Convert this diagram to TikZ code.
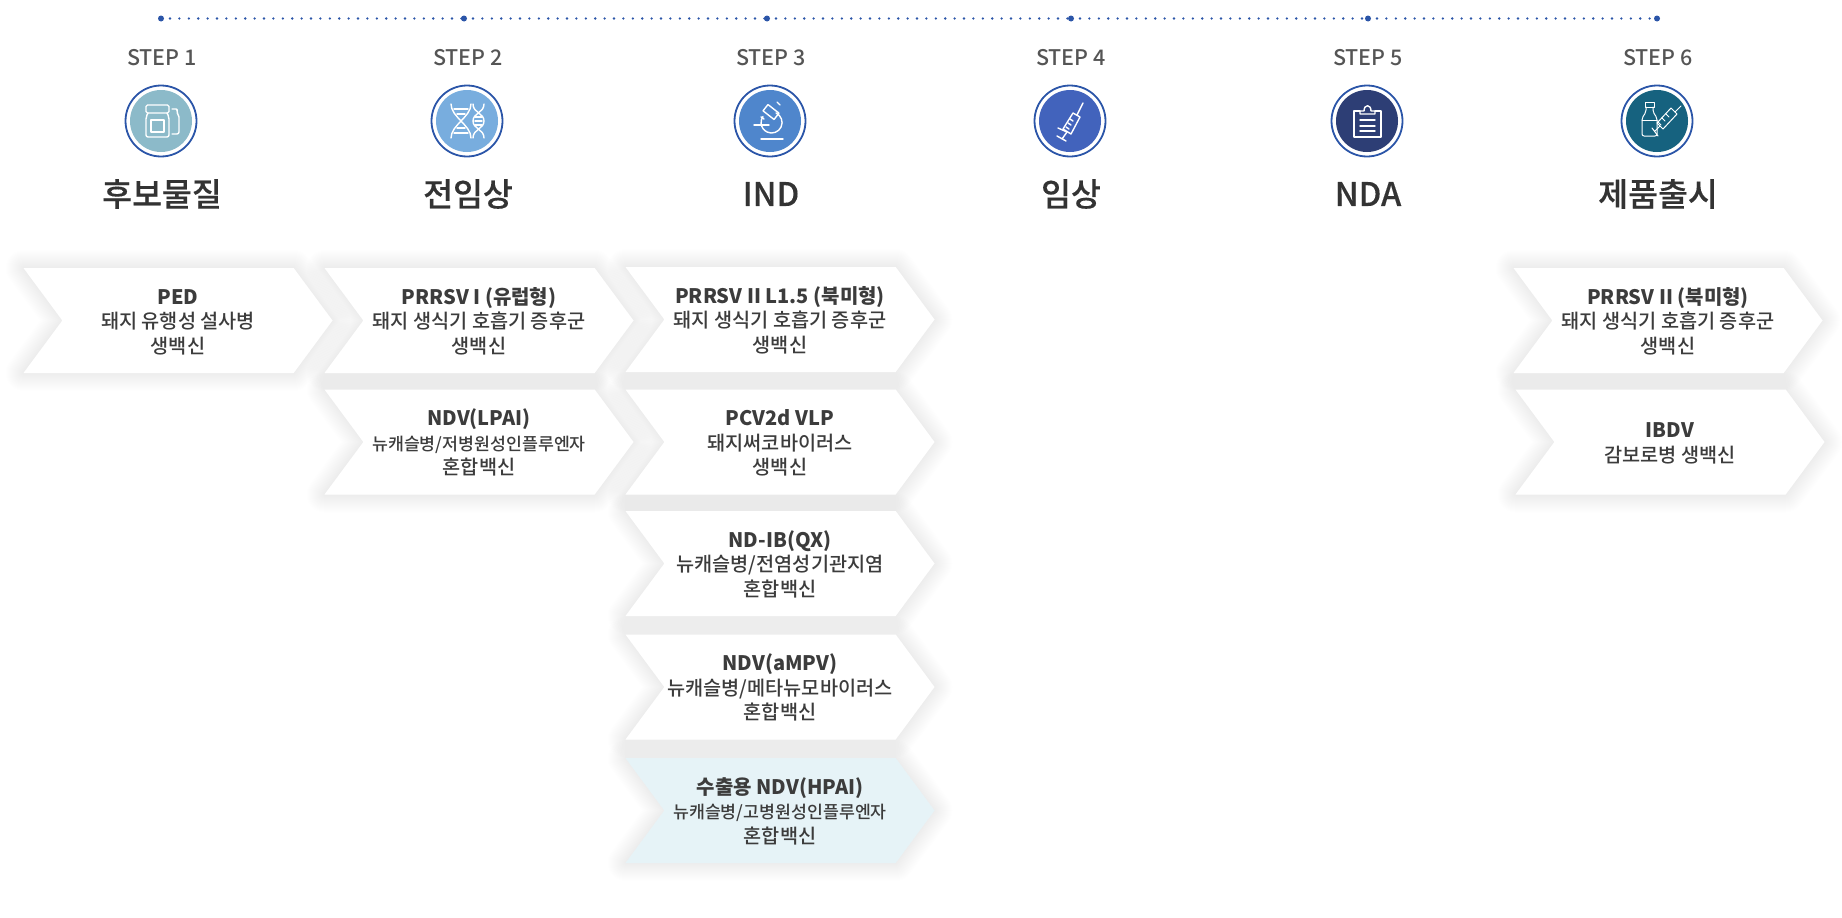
\documentclass[tikz,border=0pt]{standalone}
\usepackage{fontspec}
\setmainfont{Noto Sans CJK KR Medium}
\newfontfamily\headfont{Noto Sans CJK KR}
\newfontfamily\titlefont{Noto Sans CJK KR Medium}[FakeBold=0.25]
\usetikzlibrary{shapes.symbols}
\definecolor{ringblue}{HTML}{2B55A8}
\definecolor{stepgray}{HTML}{555555}
\definecolor{titlegray}{HTML}{333333}
\definecolor{bodygray}{HTML}{3C3C3C}
\definecolor{paleblue}{HTML}{E6F3F7}
\newcommand{\boxhead}[1]{{\rule{0pt}{18pt}\headfont\fontsize{20}{24.5}\selectfont\bfseries #1}}
\newcommand{\smalltext}[1]{{\fontsize{17.3}{24.5}\selectfont #1}}
\tikzset{
	arrowshape/.style={signal, signal from=west, signal to=east, signal pointer angle=107, minimum width=309pt, minimum height=105pt, inner sep=0pt, outer sep=0pt},
	vaxbox/.style={arrowshape, fill=white, text=bodygray, align=center, font=\fontsize{19.7}{24.5}\selectfont},
	vaxshade/.style={arrowshape, draw=black, draw opacity=0.0055, line join=round},
	bigdot/.style={circle, fill=ringblue, minimum size=6pt, inner sep=0pt},
	dotline/.style={ringblue, line width=2.6pt, line cap=round, dash pattern=on 0pt off 9.4pt, shorten <=9pt},
	steptext/.style={text=stepgray, font=\fontsize{21.5}{22}\selectfont},
	titletext/.style={text=titlegray, font=\titlefont\fontsize{32.5}{33}\selectfont},
	ringnode/.style={circle, draw=ringblue, line width=1.8pt, fill=white, minimum size=71pt, inner sep=0pt},
	discnode/.style={circle, minimum size=62pt, inner sep=0pt},
	icon/.style={white, line width=1.4pt, line cap=round, line join=round}
}
\begin{document}
\begin{tikzpicture}[x=1pt, y=-1pt]
	\useasboundingbox (0,0) rectangle (1842,918);
	% dotted line
	\node[bigdot] (d1) at (161,18.5) {};
	\node[bigdot] (d2) at (464,18.5) {};
	\node[bigdot] (d3) at (767,18.5) {};
	\node[bigdot] (d4) at (1071,18.5) {};
	\node[bigdot] (d5) at (1368,18.5) {};
	\node[bigdot] (d6) at (1657,18.5) {};
	\draw[dotline] (d1.center)--(d2.center);
	\draw[dotline] (d2.center)--(d3.center);
	\draw[dotline] (d3.center)--(d4.center);
	\draw[dotline] (d4.center)--(d5.center);
	\draw[dotline] (d5.center)--(d6.center);
	% steps
	\foreach \n/\x/\c/\t in {1/161/8CBAC9/후보물질, 2/467/78ADDE/전임상, 3/770/4F86CC/IND, 4/1070/4263BC/임상, 5/1367/2D3E75/NDA, 6/1657/16627F/제품출시}{
		\definecolor{disc}{HTML}{\c}
		\node[steptext, xshift=1pt] (step\n) at (\x,57.5) {STEP \n};
		\node[ringnode] (ring\n) at (\x,121) {};
		\node[discnode, fill=disc] (disc\n) at (\x,121) {};
		\node[titletext, xshift=1pt] (title\n) at (\x,194) {\t};
	}
	% icons
	\begin{scope}[shift={(disc1.center)}, icon]
		\draw[rounded corners=1.5pt] (-15,-16) rectangle (8,-8);
		\draw[rounded corners=2pt] (-13,-8)--(-15,-4)--(-15,16)--(8,16)--(8,-4)--(6,-8);
		\draw (-10,-1) rectangle (3,11);
		\draw[rounded corners=2pt] (11,-12)--(17,-12)--(15,-9)--(18,-6)--(18,13)--(11,13);
	\end{scope}
	\begin{scope}[shift={(disc2.center)}, icon]
		\draw (-16,-17)..controls (-16,-4) and (4,4)..(4,17);
		\draw (4,-17)..controls (4,-4) and (-16,4)..(-16,17);
		\draw (-13,-12)--(1,-12) (-10,-7)--(-2,-7) (-10,7)--(-2,7) (-13,12)--(1,12);
		\draw (6,-17)..controls (6,-8) and (17,-8)..(17,0)..controls (17,8) and (6,8)..(6,17);
		\draw (17,-17)..controls (17,-8) and (6,-8)..(6,0)..controls (6,8) and (17,8)..(17,17);
		\draw (8,-4)--(15,-4) (8,0)--(15,0) (8,4)--(15,4);
	\end{scope}
	\begin{scope}[shift={(disc3.center)}, icon]
		\draw (-9,18)--(13,18) (-16,4)--(-1,4);
		\draw (6,-8) arc (-65:215:10.5);
		\draw[rotate around={-38:(1,-9)}] (-6,-13) rectangle (8,-5);
		\draw (7,-19)--(10,-16) (-9,-4)--(-6,-2);
	\end{scope}
	\begin{scope}[shift={(disc4.center)}, icon]
		\draw (13,-18)--(7,-6);
		\draw (3,-8)--(10,-4)--(1,13)--(-7,8)--cycle;
		\draw (-3,11)--(-8,18) (-13,15)--(-4,20) (-12,7)--(-3,11);
		\draw (0,-2)--(3,0) (-2,2)--(1,4) (-4,6)--(-1,8);
	\end{scope}
	\begin{scope}[shift={(disc5.center)}, icon]
		\draw (-7,-10)--(-13,-10)--(-13,16)--(14,16)--(14,-10)--(8,-10);
		\draw (-7,-7)--(-7,-10)--(-3,-10)..controls (-3,-17) and (4,-17)..(4,-10)--(8,-10)--(8,-7)--cycle;
		\draw (-7,-1)--(8,-1) (-7,5)--(8,5) (-7,10)--(8,10);
	\end{scope}
	\begin{scope}[shift={(disc6.center)}, icon, line width=1pt]
		\draw (-12,-19) rectangle (-3,-14);
		\draw[rounded corners=2pt] (-11,-14)--(-11,-9)--(-15,-3)--(-15,15)--(0,15)--(0,-3)--(-4,-9)--(-4,-14);
		\draw (-15,-1)--(0,-1);
		\draw (24,-15)--(18,-9);
		\draw (14,-13)--(20,-7)--(6,8)--(0,2)--cycle;
		\draw (3,5)--(-2,10) (-5,7)--(1,15);
		\draw (9,-7)--(12,-4) (5,-3)--(8,0) (1,1)--(4,4);
	\end{scope}
	% soft shadow under the boxes
	\foreach \x/\y in {178/320.5, 479/320.5, 780/319.5, 1668/320.5, 479/442, 780/442, 780/563.5, 780/687, 780/810.5, 1670/442}{
		\foreach \w in {2,4,...,36}{
			\node[vaxshade, line width=\w pt] at (\x,\y) {};
		}
	}
	% step 1
	\node[vaxbox] (ped) at (178,320.5) {\boxhead{PED}\\돼지 유행성 설사병\\생백신};
	% step 2
	\node[vaxbox] (prrsveu) at (479,320.5) {\boxhead{PRRSV I (유럽형)}\\돼지 생식기 호흡기 증후군\\생백신};
	\node[vaxbox] (lpai) at (479,442) {\boxhead{NDV(LPAI)}\\\smalltext{뉴캐슬병/저병원성인플루엔자}\\혼합백신};
	% step 3
	\node[vaxbox] (prrsvna) at (780,319.5) {\boxhead{PRRSV II L1.5 (북미형)}\\돼지 생식기 호흡기 증후군\\생백신};
	\node[vaxbox] (pcv) at (780,442) {\boxhead{PCV2d VLP}\\돼지써코바이러스\\생백신};
	\node[vaxbox] (ndib) at (780,563.5) {\boxhead{ND-IB(QX)}\\뉴캐슬병/전염성기관지염\\혼합백신};
	\node[vaxbox] (ampv) at (780,687) {\boxhead{NDV(aMPV)}\\뉴캐슬병/메타뉴모바이러스\\혼합백신};
	\node[vaxbox, fill=paleblue] (hpai) at (780,810.5) {\boxhead{수출용 NDV(HPAI)}\\\smalltext{뉴캐슬병/고병원성인플루엔자}\\혼합백신};
	% step 6
	\node[vaxbox] (prrsvii) at (1668,320.5) {\boxhead{PRRSV II (북미형)}\\돼지 생식기 호흡기 증후군\\생백신};
	\node[vaxbox] (ibdv) at (1670,442) {\boxhead{IBDV}\\감보로병 생백신};
\end{tikzpicture}
\end{document}
